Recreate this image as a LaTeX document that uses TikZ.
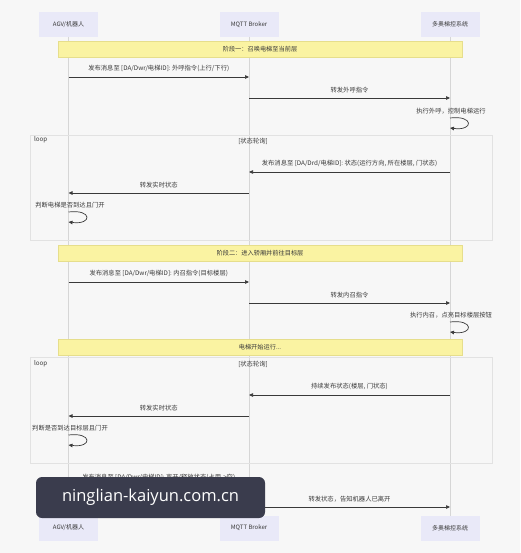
\documentclass[tikz,border=0pt]{standalone}
\usepackage{fontspec}
\setmainfont{Noto Sans CJK SC}
\newfontfamily\wmfont{Open Sans}
\usetikzlibrary{arrows.meta}
\definecolor{actorfill}{HTML}{E9E9F8}
\definecolor{notefill}{HTML}{FAF3A2}
\definecolor{notedraw}{HTML}{E6DE8C}
\definecolor{lifegray}{HTML}{D6D6D6}
\definecolor{framegray}{HTML}{E2E2E2}
\definecolor{ink}{HTML}{3A3A3A}
\definecolor{wmbox}{HTML}{3A3C4D}

\begin{document}
\begin{tikzpicture}[x=1pt,y=-1pt,inner sep=0pt,outer sep=0pt,
actor/.style={fill=actorfill,minimum width=59pt,minimum height=25pt,text=ink,font=\fontsize{6}{7}\selectfont},
life/.style={draw=lifegray,line width=0.8pt},
msg/.style={draw=ink,line width=0.7pt,-{Triangle[length=4pt,width=3.5pt]}},
lbl/.style={text=ink,font=\fontsize{6.3}{7.5}\selectfont},
note/.style={fill=notefill,draw=notedraw,line width=0.6pt,minimum width=404pt,minimum height=16pt,text=ink,font=\fontsize{6.2}{7.5}\selectfont},
frame/.style={draw=framegray,line width=0.7pt}]
\fill[white!97!black] (0,0) rectangle (520,553);

% participants
\node[actor] (agv) at (68.5,24.5) {AGV/机器人};
\node[actor] (mqtt) at (249,24.5) {MQTT Broker};
\node[actor] (ctl) at (450,24.5) {多奥梯控系统};
\node[actor] (agv2) at (68.5,528) {AGV/机器人};
\node[actor] (mqtt2) at (249,528) {MQTT Broker};
\node[actor] (ctl2) at (450,528) {多奥梯控系统};
\draw[life] (agv) -- (agv2);
\draw[life] (mqtt) -- (mqtt2);
\draw[life] (ctl) -- (ctl2);

% loop frames
\draw[frame] (30,135) rectangle (492,240);
\draw[frame] (30,357) rectangle (492,463);
\node[lbl,anchor=west] (loopa) at (34,140) {loop};
\node[lbl] (conda) at (253,141) {[状态轮询]};
\node[lbl,anchor=west] (loopb) at (34,364) {loop};
\node[lbl] (condb) at (253,364) {[状态轮询]};

% stage 1
\node[note] (n1) at (260,49) {阶段一：召唤电梯至当前层};
\coordinate (r1) at (0,77);
\coordinate (r2) at (0,98);
\coordinate (s1a) at (0,118);
\coordinate (s1b) at (0,128);
\draw[msg] (agv |- r1) -- (mqtt |- r1) node[midway,above=5pt,lbl] {发布消息至 [DA/Dwr/电梯ID]: 外呼指令(上行/下行)};
\draw[msg] (mqtt |- r2) -- (ctl |- r2) node[midway,above=5pt,lbl] {转发外呼指令};
\node[lbl] (x1) at (451,111) {执行外呼，控制电梯运行};
\draw[msg] (ctl |- s1a) .. controls +(24,-3) and +(24,3) .. (ctl |- s1b);

\coordinate (r3) at (0,172);
\coordinate (r4) at (0,193);
\coordinate (s2a) at (0,212);
\coordinate (s2b) at (0,222);
\draw[msg] (ctl |- r3) -- (mqtt |- r3) node[midway,above=5pt,lbl] {发布消息至 [DA/Drd/电梯ID]: 状态(运行方向, 所在楼层, 门状态)};
\draw[msg] (mqtt |- r4) -- (agv |- r4) node[midway,above=5pt,lbl] {转发实时状态};
\node[lbl] (x2) at (70,205) {判断电梯是否到达且门开};
\draw[msg] (agv |- s2a) .. controls +(24,-3) and +(24,3) .. (agv |- s2b);

% stage 2
\node[note] (n2) at (260,253.5) {阶段二：进入轿厢并前往目标层};
\coordinate (r5) at (0,282);
\coordinate (r6) at (0,303);
\coordinate (s3a) at (0,322);
\coordinate (s3b) at (0,332);
\draw[msg] (agv |- r5) -- (mqtt |- r5) node[midway,above=5pt,lbl] {发布消息至 [DA/Dwr/电梯ID]: 内召指令(目标楼层)};
\draw[msg] (mqtt |- r6) -- (ctl |- r6) node[midway,above=5pt,lbl] {转发内召指令};
\node[lbl] (x3) at (451,315) {执行内召，点亮目标楼层按钮};
\draw[msg] (ctl |- s3a) .. controls +(24,-3) and +(24,3) .. (ctl |- s3b);

\node[note] (n3) at (260,347.5) {电梯开始运行...};
\coordinate (r7) at (0,395);
\coordinate (r8) at (0,416);
\coordinate (s4a) at (0,435);
\coordinate (s4b) at (0,445);
\draw[msg] (ctl |- r7) -- (mqtt |- r7) node[midway,above=5pt,lbl] {持续发布状态(楼层, 门状态)};
\draw[msg] (mqtt |- r8) -- (agv |- r8) node[midway,above=5pt,lbl] {转发实时状态};
\node[lbl] (x4) at (70,428) {判断是否到达目标层且门开};
\draw[msg] (agv |- s4a) .. controls +(24,-3) and +(24,3) .. (agv |- s4b);

% leaving
\coordinate (r9) at (0,486);
\coordinate (r10) at (0,507);
\draw[msg] (agv |- r9) -- (mqtt |- r9) node[midway,above=5pt,lbl] {发布消息至 [DA/Dwr/电梯ID]: 离开/释放状态(占用->空)};
\draw[msg] (mqtt |- r10) -- (ctl |- r10) node[midway,above=5pt,lbl] {转发状态，告知机器人已离开};

% watermark
\node[fill=wmbox,rounded corners=6pt,minimum width=229pt,minimum height=41pt,text=white,font=\wmfont\fontsize{16.5}{18}\selectfont] (wm) at (150.5,497.5) {ninglian-kaiyun.com.cn};
\end{tikzpicture}
\end{document}
